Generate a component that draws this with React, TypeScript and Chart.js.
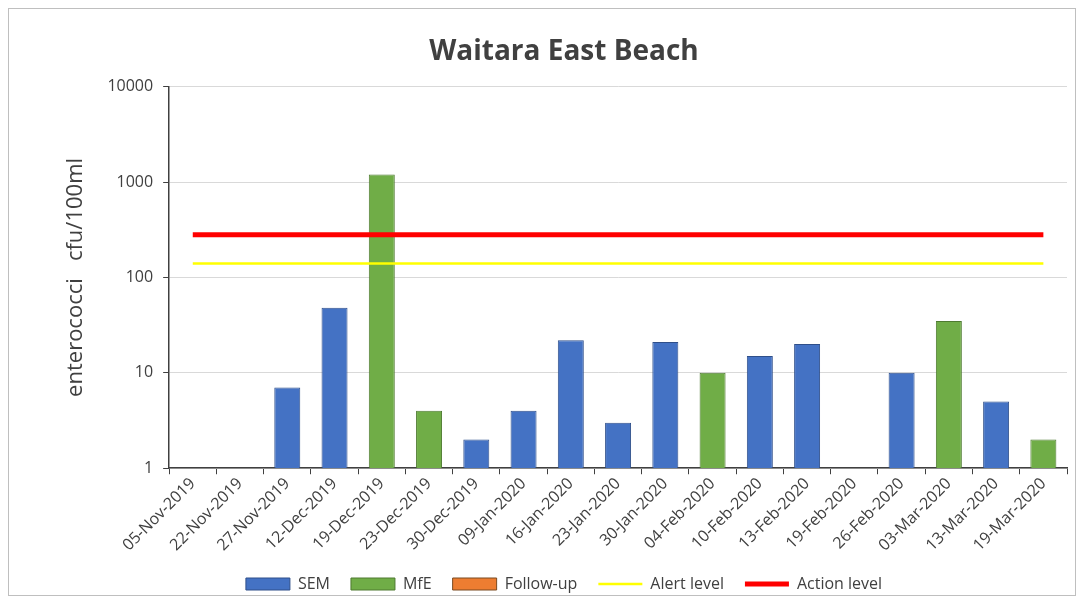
import React, { useEffect, useRef } from "react";
import { Chart, registerables } from "chart.js";

Chart.register(...registerables);

const categories = [
  "05-Nov-2019", "22-Nov-2019", "27-Nov-2019", "12-Dec-2019", "19-Dec-2019", "23-Dec-2019",
  "30-Dec-2019", "09-Jan-2020", "16-Jan-2020", "23-Jan-2020", "30-Jan-2020", "04-Feb-2020",
  "10-Feb-2020", "13-Feb-2020", "19-Feb-2020", "26-Feb-2020", "03-Mar-2020", "13-Mar-2020", "19-Mar-2020",
];

const semValues = [1, 1, 7, 48, null, null, 2, 4, 22, 3, 21, null, 15, 20, 1, 10, null, 5, null];
const mfeValues = [null, null, null, null, 1200, 4, null, null, null, null, null, 10, null, null, null, null, 35, null, 2];
const followUpValues = categories.map(() => null);
const alertLevel = categories.map(() => 140);
const actionLevel = categories.map(() => 280);
const yTicks = [1, 10, 100, 1000, 10000];

const FONT = "'Open Sans', 'Liberation Sans', sans-serif";
const BAR_PCT = 0.55;

export default function App() {
  const ref = useRef<HTMLCanvasElement | null>(null);
  useEffect(() => {
    if (!ref.current) return;
    const chart = new Chart(ref.current, {
      type: "bar",
      data: {
        labels: categories,
        datasets: [
          { label: "SEM", data: semValues as any, backgroundColor: "#4472C4", borderColor: "#2F4F8A", borderWidth: 1, barPercentage: BAR_PCT, categoryPercentage: 1, order: 2 },
          { label: "MfE", data: mfeValues as any, backgroundColor: "#70AD47", borderColor: "#4E7A30", borderWidth: 1, barPercentage: BAR_PCT, categoryPercentage: 1, order: 2 },
          { label: "Follow-up", data: followUpValues as any, backgroundColor: "#ED7D31", borderColor: "#7A4A20", borderWidth: 1, barPercentage: BAR_PCT, categoryPercentage: 1, order: 2 },
          { type: "line" as any, label: "Alert level", data: alertLevel, borderColor: "#FFFF00", backgroundColor: "#FFFF00", borderWidth: 2.5, pointRadius: 0, order: 1 },
          { type: "line" as any, label: "Action level", data: actionLevel, borderColor: "#FF0000", backgroundColor: "#FF0000", borderWidth: 5, pointRadius: 0, order: 0 },
        ],
      },
      options: {
        animation: false,
        responsive: false,
        maintainAspectRatio: false,
        layout: { padding: { left: 52, right: 8, top: 4, bottom: -7 } },
        scales: {
          x: {
            stacked: true,
            grid: { display: true, drawOnChartArea: false, offset: true, color: "#404040", tickLength: 6, tickColor: "#404040" },
            border: { color: "#404040", width: 1.5 },
            ticks: { color: "#404040", font: { family: FONT, size: 16 }, minRotation: 45, maxRotation: 45, padding: 0 },
          },
          y: {
            type: "logarithmic",
            min: 1,
            max: 10000,
            afterBuildTicks: (scale: any) => {
              scale.ticks = yTicks.map((v) => ({ value: v }));
            },
            grid: { color: "#D9D9D9", tickLength: 6, tickColor: "#404040" },
            border: { color: "#404040", width: 1.5 },
            ticks: { color: "#404040", font: { family: FONT, size: 16 }, callback: (v: any) => String(v), padding: 10 },
            title: { display: true, text: "enterococci   cfu/100ml", color: "#404040", font: { family: FONT, size: 22 }, padding: { top: 2, bottom: 8 } },
          },
        },
        plugins: {
          title: { display: true, text: "Waitara East Beach", color: "#404040", font: { family: FONT, size: 28, weight: "bold" }, padding: { top: 22, bottom: 18 } },
          tooltip: { enabled: false },
          legend: {
            position: "bottom",
            labels: {
              usePointStyle: true,
              pointStyleWidth: 44,
              boxHeight: 12,
              padding: 21,
              color: "#404040",
              font: { family: FONT, size: 16 },
              generateLabels: (c: any) => {
                const items = (Chart.defaults.plugins.legend.labels as any).generateLabels(c);
                items.sort((a: any, b: any) => a.datasetIndex - b.datasetIndex);
                return items.map((it: any) => {
                  const ds = c.data.datasets[it.datasetIndex];
                  if (ds.type === "line") {
                    return { ...it, pointStyle: "line", lineWidth: ds.borderWidth, strokeStyle: ds.borderColor, fillStyle: ds.borderColor };
                  }
                  return { ...it, pointStyle: "rect", lineWidth: 1, fillStyle: ds.backgroundColor, strokeStyle: ds.borderColor };
                });
              },
            },
          },
        },
      },
    });
    return () => chart.destroy();
  }, []);
  return (
    <div style={{ width: 1068, height: 588, border: "1px solid #BFBFBF", boxSizing: "border-box", background: "#fff" }}>
      <canvas ref={ref} width={1066} height={586} style={{ display: "block" }} />
    </div>
  );
}
